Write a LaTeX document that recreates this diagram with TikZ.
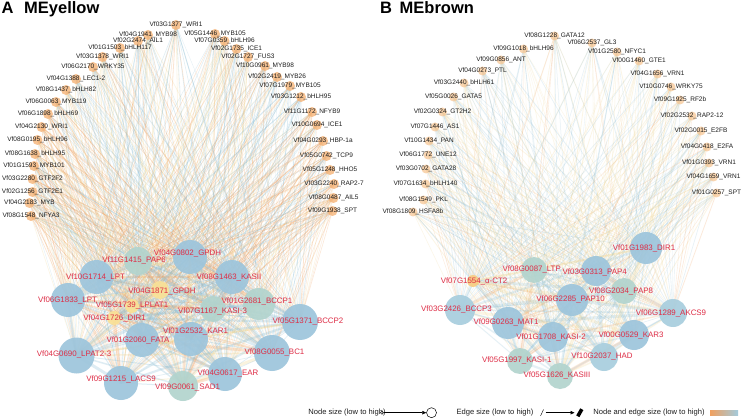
\documentclass[tikz,border=0pt]{standalone}
\usepackage{fontspec}
\setmainfont{Liberation Sans}
\usetikzlibrary{arrows.meta}
\pgfdeclarelayer{edges}
\pgfsetlayers{edges,main}
\definecolor{eo}{RGB}{240,160,95}
\definecolor{ey}{RGB}{240,212,140}
\definecolor{eb}{RGB}{140,190,212}
\definecolor{cblue}{RGB}{157,197,220}
\definecolor{cblue2}{RGB}{168,206,222}
\definecolor{cteal}{RGB}{178,212,206}
\definecolor{cyel}{RGB}{250,225,150}
\definecolor{cyel2}{RGB}{248,205,130}
\definecolor{tforange}{RGB}{246,180,120}
\definecolor{tfpeach}{RGB}{248,200,150}
\definecolor{labred}{RGB}{222,45,70}
\definecolor{labblack}{RGB}{30,30,30}
\tikzset{
  tfnodeA/.style={circle, inner sep=0pt, minimum size=10pt, fill=tforange, fill opacity=0.8, draw=none},
  tfnodeB/.style={circle, inner sep=0pt, minimum size=9pt, fill=tfpeach, fill opacity=0.75, draw=none},
  cnode/.style={circle, inner sep=0pt, draw=none, fill opacity=0.92},
  tflab/.style={inner sep=0pt, text=labblack, font=\fontsize{6.5}{7}\selectfont},
  clab/.style={inner sep=0pt, text=labred, font=\fontsize{7.9}{9}\selectfont},
  ttl/.style={inner sep=0pt, anchor=base west, font=\fontsize{16.5}{18}\selectfont\bfseries},
  leg/.style={inner sep=0pt, text=labblack, font=\fontsize{7.6}{9}\selectfont},
}
\def\TFA{%
a1/148/35/Vf04G1941\_MYB98,
a2/138/41/Vf02G2474\_AIL1,
a3/120/48/Vf01G1503\_bHLH117,
a4/102.5/57/Vf03G1378\_WRI1,
a5/93/67/Vf06G2170\_WRKY35,
a6/76/79/Vf04G1388\_LEC1-2,
a7/66/90/Vf08G1437\_bHLH82,
a8/56/102/Vf06G0063\_MYB119,
a9/48/114/Vf06G1898\_bHLH69,
a10/41.5/127/Vf04G2130\_WRI1,
a11/37.5/140/Vf08G0195\_bHLH96,
a12/35/154/Vf08G1638\_bHLH95,
a13/34/166/Vf01G1593\_MYB101,
a14/32.5/179/Vf03G2280\_GTF2F2,
a15/32.5/192/Vf02G1256\_GTF2E1,
a16/29.5/203/Vf04G2183\_MYB,
a17/31/216/Vf08G1548\_NFYA3,
a18/176/25/Vf03G1377\_WRI1,
a19/215/34/Vf05G1446\_MYB105,
a20/224.5/41/Vf07G0359\_bHLH96,
a21/236.5/49/Vf02G1735\_ICE1,
a22/248/57/Vf02G1727\_FUS3,
a23/265/66/Vf10G0961\_MYB98,
a24/277/77/Vf02G2419\_MYB26,
a25/290/86/Vf07G1979\_MYB105,
a26/301/97/Vf03G1212\_bHLH95,
a27/312/112/Vf11G1172\_NFYB9,
a28/317/125/Vf10G0694\_ICE1,
a29/323/141/Vf04G0293\_HBP-1a,
a30/326.5/156/Vf05G0742\_TCP9,
a31/330/170/Vf05G1248\_HHO5,
a32/334/184/Vf03G2240\_RAP2-7,
a33/333.5/198/Vf08G0487\_AIL5,
a34/332.5/211/Vf09G1938\_SPT}
\def\CA{%
ac1/138/261/14/cteal/134/260/Vf11G1415\_PAP6,
ac2/96.5/277/17/cblue/95.5/277/Vf10G1714\_LPT,
ac3/68/300/17/cblue/67.5/300/Vf06G1833\_LPT,
ac4/132/306/7/cyel/132/305/Vf05G1739\_LPLAT1,
ac5/160/290/9/cyel/162/291/Vf04G1871\_GPDH,
ac6/114/318/7/cyel/114.5/318/Vf04G1726\_DIR1,
ac7/142/340/17/cblue/138/340/Vf01G2060\_FATA,
ac8/76.5/355.5/18/cblue/74/354/Vf04G0690\_LPAT2-3,
ac9/121/383/17/cblue/121/379/Vf09G1215\_LACS9,
ac10/183/386/15/cteal/187.5/387/Vf09G0061\_SAD1,
ac11/190/257/17/cblue/187.5/253/Vf04G0802\_GPDH,
ac12/232/277/17/cblue/229/277/Vf08G1463\_KASII,
ac13/259/304/16/cteal/257/301/Vf01G2681\_BCCP1,
ac14/213/309/13/cteal/212.5/311/Vf07G1167\_KASI-3,
ac15/300/322/18/cblue/308/321/Vf05G1371\_BCCP2,
ac16/191/339/17/cblue/195.5/331/Vf01G2532\_KAR1,
ac17/272/353/18/cblue/274.5/352/Vf08G0055\_BC1,
ac18/225/374/17/cblue/228/373/Vf04G0617\_EAR}
\def\TFB{%
b1/523.5/49/Vf09G1018\_bHLH96,
b2/501/60/Vf09G0856\_ANT,
b3/482.5/71/Vf04G0273\_PTL,
b4/464/83/Vf03G2440\_bHLH61,
b5/453.5/97/Vf05G0026\_GATA5,
b6/442.5/112/Vf02G0324\_GT2H2,
b7/435/127/Vf07G1446\_AS1,
b8/429/141/Vf10G1434\_PAN,
b9/428/155/Vf06G1772\_UNE12,
b10/426/169/Vf03G0702\_GATA28,
b11/425.5/184/Vf07G1634\_bHLH140,
b12/423.5/200/Vf08G1549\_PKL,
b13/413/212/Vf08G1809\_HSFA8b,
b14/554.5/36/Vf08G1228\_GATA12,
b15/592/43/Vf06G2537\_GL3,
b16/617/52/Vf01G2580\_NFYC1,
b17/639/61/Vf00G1460\_GTE1,
b18/657.5/74/Vf04G1656\_VRN1,
b19/671/87/Vf10G0746\_WRKY75,
b20/680/100/Vf09G1925\_RF2b,
b21/692/116/Vf02G2532\_RAP2-12,
b22/701/131/Vf02G0015\_E2FB,
b23/707/147/Vf04G0418\_E2FA,
b24/709/163/Vf01G0393\_VRN1,
b25/713.5/177/Vf04G1659\_VRN1,
b26/716.5/193/Vf01G0257\_SPT}
\def\CB{%
bc1/534/270/13/cteal/531.7/269/Vf08G0087\_LTP,
bc2/473/281/6/cyel2/474/281/Vf07G1554\_α-CT2,
bc3/460/310/15/cblue2/456.5/309/Vf03G2426\_BCCP3,
bc4/508/323/16/cblue/506/322/Vf09G0263\_MAT1,
bc5/520/361/13/cteal/516.7/360/Vf05G1997\_KASI-1,
bc6/553/337/15/cblue/551/337/Vf01G1708\_KASI-2,
bc7/560/376/13/cteal/557/375/Vf05G1626\_KASIII,
bc8/572/300/16/cblue/570.5/299/Vf06G2285\_PAP10,
bc9/596/271/15/cblue/594.7/272.7/Vf03G0313\_PAP4,
bc10/624/291/13/cteal/621/291/Vf08G2034\_PAP8,
bc11/646/248/16/cblue/644/248/Vf01G1983\_DIR1,
bc12/673/313/14/cblue2/671/313/Vf06G1289\_AKCS9,
bc13/634/335/15/cblue/631/335/Vf00G0529\_KAR3,
bc14/604/357/14/cblue2/602/356/Vf10G2037\_HAD}
\pgfmathdeclarerandomlist{colAt}{{eb}{eb}{eb}{eb}{ey}{ey}{ey}{eo}{eo}}
\pgfmathdeclarerandomlist{colAl}{{eo}{eo}{eo}{eo}{eo}{ey}{ey}{eb}{eb}}
\pgfmathdeclarerandomlist{colB}{{eo}{ey}{ey}{ey}{ey}{ey}{eb}{eb}{eb}{eb}}
\pgfmathdeclarerandomlist{colC}{{eb}{eb}{eb}{ey}{eo}}
\pgfmathdeclarerandomlist{wid}{{0.3}{0.4}{0.5}{0.6}{0.8}}
\pgfmathdeclarerandomlist{widC}{{0.6}{1.0}{1.5}{2.2}{3.0}}
\begin{document}
\begin{tikzpicture}[x=1pt,y=-1pt]
\useasboundingbox (0,0) rectangle (743,419);
% ---- nodes: circles
\foreach \n/\x/\y/\t in \TFA { \node[tfnodeA] (\n) at (\x,\y) {}; }
\foreach \n/\x/\y/\t in \TFB { \node[tfnodeB] (\n) at (\x,\y) {}; }
\foreach \n/\x/\y/\r/\c/\lx/\ly/\t in \CA { \node[cnode, fill=\c, minimum size=2*\r] (\n) at (\x,\y) {}; }
\foreach \n/\x/\y/\r/\c/\lx/\ly/\t in \CB { \node[cnode, fill=\c, minimum size=2*\r] (\n) at (\x,\y) {}; }
% ---- labels
\foreach \n/\x/\y/\t in \TFA { \node[tflab] (\n-l) at (\x,\y) {\t}; }
\foreach \n/\x/\y/\t in \TFB { \node[tflab] (\n-l) at (\x,\y) {\t}; }
\foreach \n/\x/\y/\r/\c/\lx/\ly/\t in \CA { \node[clab] (\n-l) at (\lx,\ly) {\t}; }
\foreach \n/\x/\y/\r/\c/\lx/\ly/\t in \CB { \node[clab] (\n-l) at (\lx,\ly) {\t}; }
% ---- edges
\begin{pgfonlayer}{edges}
\fill[white] (0,0) rectangle (743,419);
\pgfmathsetseed{7}
\foreach \i in {1,...,34}{\foreach \j in {1,...,18}{%
  \ifnum\i<9 \def\lst{colAt}\else
    \ifnum\i>17 \ifnum\i<27 \def\lst{colAt}\else\def\lst{colAl}\fi
    \else\def\lst{colAl}\fi\fi
  \pgfmathrandomitem{\ec}{\lst}\pgfmathrandomitem{\ew}{wid}%
  \draw[draw=\ec, line width=\ew, opacity=0.27] (a\i.center) -- (ac\j.center);}}
\foreach \i in {1,...,17}{\foreach \j in {1,...,18}{%
  \ifnum\j>\i
  \pgfmathrandomitem{\ec}{colC}\pgfmathrandomitem{\ew}{widC}%
  \draw[draw=\ec, line width=\ew, opacity=0.28] (ac\i.center) -- (ac\j.center);
  \fi}}
\foreach \i in {1,...,26}{\foreach \j in {1,...,14}{%
  \pgfmathrandomitem{\ec}{colB}\pgfmathrandomitem{\ew}{wid}%
  \draw[draw=\ec, line width=\ew, opacity=0.22] (b\i.center) -- (bc\j.center);}}
\foreach \i in {1,...,13}{\foreach \j in {1,...,14}{%
  \ifnum\j>\i
  \pgfmathrandomitem{\ec}{colC}\pgfmathrandomitem{\ew}{widC}%
  \draw[draw=\ec, line width=\ew, opacity=0.22] (bc\i.center) -- (bc\j.center);
  \fi}}
\end{pgfonlayer}
% ---- titles
\node[ttl] (tA) at (1.5,14) {A};
\node[ttl] (tAn) at (24,14) {MEyellow};
\node[ttl] (tB) at (380,14) {B};
\node[ttl] (tBn) at (399.5,14) {MEbrown};
% ---- legend
\node[leg] (lg1) at (347,412.5) {Node size (low to high)};
\node[draw, circle, minimum size=3.2, inner sep=0pt, line width=0.4] (ls) at (382,412.7) {};
\node[draw, circle, minimum size=10, inner sep=0pt, line width=0.5] (lb) at (431.5,412.7) {};
\draw[-{Triangle[length=4,width=3.5]}, line width=0.5] (ls) -- (lb);
\node[leg] (lg2) at (495,412.5) {Edge size (low to high)};
\coordinate (e1a) at (540.5,416);
\coordinate (e1b) at (543.5,409.5);
\draw[line width=0.4] (e1a) -- (e1b);
\coordinate (e2a) at (545.5,412.7);
\coordinate (e2b) at (574.5,412.7);
\draw[-{Triangle[length=4,width=3.5]}, line width=0.5] (e2a) -- (e2b);
\coordinate (e3a) at (577.8,416.3);
\coordinate (e3b) at (581.8,409.2);
\draw[line width=3.6] (e3a) -- (e3b);
\node[leg] (lg3) at (649,412.5) {Node and edge size (low to high)};
\shade[left color=eo, middle color=ey!70!white, right color=eb!80!white] (710,410.6) rectangle (738,415.2);
\end{tikzpicture}
\end{document}
